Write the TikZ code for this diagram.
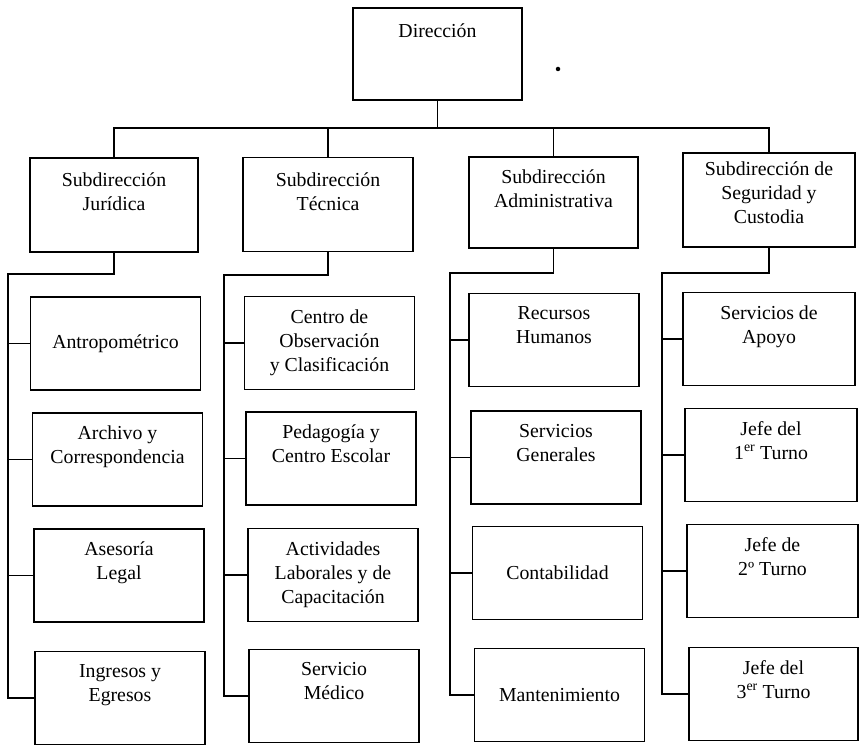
\documentclass[tikz,border=0pt]{standalone}
\usepackage{fontspec}
\setmainfont{Liberation Serif}
\begin{document}
\begin{tikzpicture}[x=1pt, y=-1pt, line width=1.2pt,
  box/.style={draw, rectangle, inner sep=0pt, minimum width=170pt, minimum height=93pt,
              font=\fontsize{19.8}{24}\selectfont, align=center},
  subbox/.style={box, minimum height=94pt},
  lbl/.style={anchor=north, inner sep=0pt, font=\fontsize{19.8}{24}\selectfont, align=center}]
\useasboundingbox (0,0) rectangle (860,746);

% ---- top level ----
\node[box, minimum width=169pt, minimum height=92pt] (dir) at (437.5,54) {};
\node[lbl] (dirt) at ([yshift=-16pt]dir.north) {Dirección};
\node[circle, fill, inner sep=0pt, minimum size=4.5pt] (dot) at (558,69) {};

% ---- sub-directorates ----
\node[subbox, minimum width=168pt] (sj) at (114,205) {};
\node[subbox] (st) at (328,204.5) {};
\node[subbox, minimum width=169pt, minimum height=91pt] (sa) at (553.5,202.5) {};
\node[subbox, minimum width=172pt] (ss) at (769,200) {};
\node[lbl] (sjt) at ([yshift=-15pt]sj.north) {Subdirección\\Jurídica};
\node[lbl] (stt) at ([yshift=-15pt]st.north) {Subdirección\\Técnica};
\node[lbl] (sat) at ([yshift=-13pt]sa.north) {Subdirección\\Administrativa};
\node[lbl] (sst) at ([yshift=-9pt]ss.north) {Subdirección de\\Seguridad y\\Custodia};

% ---- departments: Jurídica ----
\node[box] (j1) at (115.5,343.5) {Antropométrico};
\node[box] (j2) at (117.5,459.5) {};
\node[box] (j3) at (119,575.5) {};
\node[box] (j4) at (120,698) {};
\node[lbl] (j2t) at ([yshift=-13pt]j2.north) {Archivo y\\Correspondencia};
\node[lbl] (j3t) at ([yshift=-13pt]j3.north) {Asesoría\\Legal};
\node[lbl] (j4t) at ([yshift=-13pt]j4.north) {Ingresos y\\Egresos};

% ---- departments: Técnica ----
\node[box] (t1) at (329.5,343) {};
\node[box] (t2) at (331,458.5) {};
\node[box] (t3) at (333,575) {};
\node[box] (t4) at (334,696) {};
\node[lbl] (t1t) at ([yshift=-13pt]t1.north) {Centro de\\Observación\\y Clasificación};
\node[lbl] (t2t) at ([yshift=-13pt]t2.north) {Pedagogía y\\Centro Escolar};
\node[lbl] (t3t) at ([yshift=-13pt]t3.north) {Actividades\\Laborales y de\\Capacitación};
\node[lbl] (t4t) at ([yshift=-13pt]t4.north) {Servicio\\Médico};

% ---- departments: Administrativa ----
\node[box] (a1) at (554,340) {};
\node[box] (a2) at (556,457.5) {};
\node[box] (a3) at (557.5,573) {Contabilidad};
\node[box] (a4) at (559.5,695) {Mantenimiento};
\node[lbl] (a1t) at ([yshift=-13pt]a1.north) {Recursos\\Humanos};
\node[lbl] (a2t) at ([yshift=-13pt]a2.north) {Servicios\\Generales};

% ---- departments: Seguridad y Custodia ----
\node[box, minimum width=172pt] (s1) at (769,339) {};
\node[box, minimum width=172pt] (s2) at (771,455) {};
\node[box, minimum width=171pt] (s3) at (772.5,571) {};
\node[box, minimum width=169pt] (s4) at (773.5,694) {};
\node[lbl] (s1t) at ([yshift=-13pt]s1.north) {Servicios de\\Apoyo};
\node[lbl] (s2t) at ([yshift=-13pt]s2.north) {Jefe del\\1\textsuperscript{er} Turno};
\node[lbl] (s3t) at ([yshift=-13pt]s3.north) {Jefe de\\2º Turno};
\node[lbl] (s4t) at ([yshift=-13pt]s4.north) {Jefe del\\3\textsuperscript{er} Turno};

% ---- connectors: top bus ----
\coordinate (bus) at (0,128);
\draw (dir.south) -- (dir.south |- bus);
\draw (sj.north) -- (sj.north |- bus) -- (ss.north |- bus) -- (ss.north);
\draw (st.north) -- (st.north |- bus);
\draw (sa.north) -- (sa.north |- bus);

% ---- connectors: column buses ----
\coordinate (jb) at (8,274);
\coordinate (tb) at (224,275);
\coordinate (ab) at (450,273);
\coordinate (sb) at (662,273);

\draw (sj.south) |- (jb) -- (jb |- j4.west) -- (j4.west);
\draw (jb |- j1.west) -- (j1.west);
\draw (jb |- j2.west) -- (j2.west);
\draw (jb |- j3.west) -- (j3.west);

\draw (st.south) |- (tb) -- (tb |- t4.west) -- (t4.west);
\draw (tb |- t1.west) -- (t1.west);
\draw (tb |- t2.west) -- (t2.west);
\draw (tb |- t3.west) -- (t3.west);

\draw (sa.south) |- (ab) -- (ab |- a4.west) -- (a4.west);
\draw (ab |- a1.west) -- (a1.west);
\draw (ab |- a2.west) -- (a2.west);
\draw (ab |- a3.west) -- (a3.west);

\draw (ss.south) |- (sb) -- (sb |- s4.west) -- (s4.west);
\draw (sb |- s1.west) -- (s1.west);
\draw (sb |- s2.west) -- (s2.west);
\draw (sb |- s3.west) -- (s3.west);
\end{tikzpicture}
\end{document}
